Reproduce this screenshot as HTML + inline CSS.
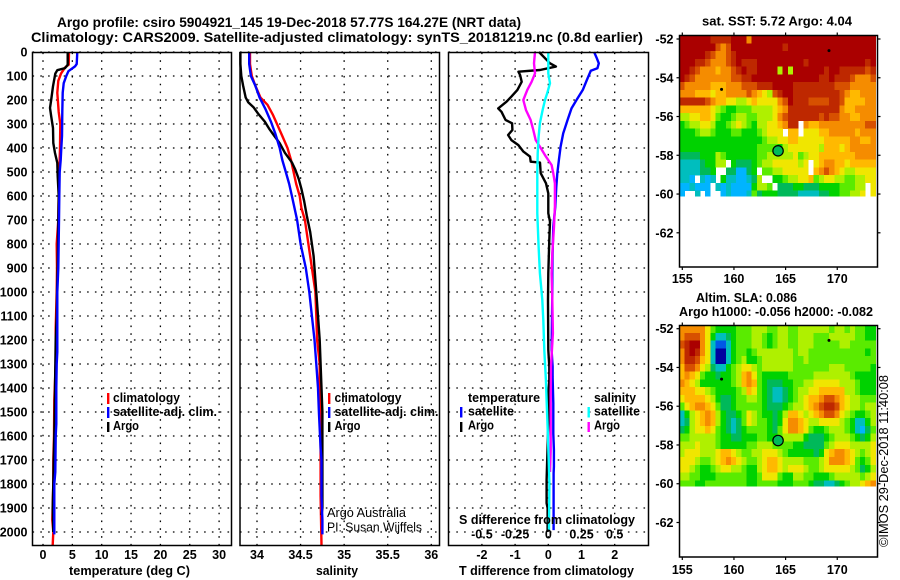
<!DOCTYPE html>
<html lang="en">
<head>
<meta charset="utf-8">
<title>Argo profile csiro 5904921_145</title>
<style>
html,body{margin:0;padding:0;background:#fff;}
svg{display:block;}
text{font-family:"Liberation Sans",sans-serif;fill:#000;font-weight:bold;font-size:12.5px;}
.reg{font-weight:normal;}
.ttl{font-size:14px;}
</style>
</head>
<body>
<svg id="chart" xmlns="http://www.w3.org/2000/svg" width="900" height="580" viewBox="0 0 900 580">
  <rect x="0" y="0" width="900" height="580" fill="#fff"/>
  <g id="maps"></g>
  <g id="grids"></g>
  <g id="series"></g>
  <g id="frames"></g>
  <g id="labels"></g>

  <text class="ttl" x="57" y="27" textLength="464" lengthAdjust="spacingAndGlyphs">Argo profile: csiro 5904921_145 19-Dec-2018 57.77S 164.27E (NRT data)</text>
  <text class="ttl" x="31" y="42" textLength="612" lengthAdjust="spacingAndGlyphs">Climatology: CARS2009. Satellite-adjusted climatology: synTS_20181219.nc (0.8d earlier)</text>

  <text x="69" y="575" textLength="121" lengthAdjust="spacingAndGlyphs">temperature (deg C)</text>
  <text x="316" y="575" textLength="42" lengthAdjust="spacingAndGlyphs">salinity</text>
  <text x="459" y="575" textLength="175" lengthAdjust="spacingAndGlyphs">T difference from climatology</text>
  <text x="459" y="524" textLength="176" lengthAdjust="spacingAndGlyphs">S difference from climatology</text>

  <g>
    <rect x="107" y="393" width="2.4" height="11" fill="#f00"/>
    <rect x="107" y="407" width="2.4" height="11" fill="#00f"/>
    <rect x="107" y="422" width="2.4" height="10" fill="#000"/>
    <text x="113" y="402" textLength="67" lengthAdjust="spacingAndGlyphs">climatology</text>
    <text x="113" y="416" textLength="104" lengthAdjust="spacingAndGlyphs">satellite-adj. clim.</text>
    <text x="113" y="430" textLength="26" lengthAdjust="spacingAndGlyphs">Argo</text>
  </g>
  <g>
    <rect x="328" y="393" width="2.4" height="11" fill="#f00"/>
    <rect x="328" y="407" width="2.4" height="11" fill="#00f"/>
    <rect x="328" y="422" width="2.4" height="10" fill="#000"/>
    <text x="334.5" y="402" textLength="67" lengthAdjust="spacingAndGlyphs">climatology</text>
    <text x="334.5" y="416" textLength="104" lengthAdjust="spacingAndGlyphs">satellite-adj. clim.</text>
    <text x="334.5" y="430" textLength="26" lengthAdjust="spacingAndGlyphs">Argo</text>
    <text class="reg" x="327" y="517" textLength="79" lengthAdjust="spacingAndGlyphs">Argo Australia</text>
    <text class="reg" x="327" y="531.5" textLength="95" lengthAdjust="spacingAndGlyphs">PI: Susan Wijffels</text>
  </g>
  <g>
    <text x="468" y="402" textLength="72" lengthAdjust="spacingAndGlyphs">temperature</text>
    <rect x="460" y="407" width="2.4" height="10.5" fill="#00f"/>
    <text x="468" y="415.5" textLength="46" lengthAdjust="spacingAndGlyphs">satellite</text>
    <rect x="460" y="422" width="2.4" height="10" fill="#000"/>
    <text x="468" y="429.5" textLength="26" lengthAdjust="spacingAndGlyphs">Argo</text>
    <text x="594" y="402" textLength="42" lengthAdjust="spacingAndGlyphs">salinity</text>
    <rect x="587.5" y="407" width="2.4" height="10.5" fill="#0ff"/>
    <text x="594" y="415.5" textLength="46" lengthAdjust="spacingAndGlyphs">satellite</text>
    <rect x="587.5" y="422" width="2.4" height="10" fill="#f0f"/>
    <text x="594" y="429.5" textLength="26" lengthAdjust="spacingAndGlyphs">Argo</text>
  </g>

  <text x="702" y="25.5" textLength="150" lengthAdjust="spacingAndGlyphs">sat. SST: 5.72 Argo: 4.04</text>
  <text x="696" y="302" textLength="101" lengthAdjust="spacingAndGlyphs">Altim. SLA: 0.086</text>
  <text x="679" y="316" textLength="194" lengthAdjust="spacingAndGlyphs">Argo h1000: -0.056 h2000: -0.082</text>
  <text class="reg" transform="translate(888,547) rotate(-90)" x="0" y="0" textLength="172" lengthAdjust="spacingAndGlyphs">©IMOS 29-Dec-2018 11:40:08</text>
</svg>

<script>
const depthTicks = [0,100,200,300,400,500,600,700,800,900,1000,1100,1200,1300,1400,1500,1600,1700,1800,1900,2000];
const tempTicks = [0,5,10,15,20,25,30];
const salTicks = [34,34.5,35,35.5,36];
const salTickLabels = ["34","34.5","35","35.5","36"];
const tDiffTicks = [-2,-1,0,1,2];
const sDiffTicks = [-0.5,-0.25,0,0.25,0.5];
const sDiffTickLabels = ["-0.5","-0.25","0","0.25","0.5"];
const lonTicks = [155,160,165,170];
const latTicks = [-52,-54,-56,-58,-60,-62];

const tempArgoDepth = [0,53,67,76,90,143,199,233,268,317,379,421,462,518,600,700,893,1000,1100,1200,1400,1500,1600,1700,1800,1900,2000];
const tempArgo = [4.2,4.2,3.75,2.44,2.1,1.7,1.4,1.2,1.4,1.7,1.76,2.04,2.44,2.5,2.67,2.61,2.5,2.39,2.33,2.16,2.04,2.0,1.93,1.82,1.76,1.65,1.76];
const tempClimDepth = [0,53,65,90,120,170,250,300,400,500,600,700,800,900,1000,1150,1300,1450,1600,1700,1800,1950,2000,2054];
const tempClim = [4.43,4.37,3.75,3.07,2.61,2.44,2.67,2.95,2.89,2.78,2.67,2.61,2.33,2.39,2.33,2.16,2.16,1.93,1.87,1.76,1.76,1.59,1.76,1.65];
const tempSatDepth = [0,50,60,80,100,130,170,250,350,400,450,500,600,700,900,1000,1100,1250,1300,1400,1550,1600,1750,1800,1900,2010];
const tempSat = [5.85,5.74,5.45,4.32,3.97,3.52,3.35,3.29,3.24,3.12,3.01,2.84,2.78,2.72,2.61,2.44,2.44,2.44,2.33,2.27,2.27,2.16,2.1,1.93,1.93,1.93];

const salArgoDepth = [0,50,100,140,190,210,230,260,290,320,350,380,420,460,490,530,570,620,680,750,850,950,1000,1100,1200,1300,1400,1500,1600,1700,1800,1900,1930];
const salArgo = [33.81,33.81,33.82,33.84,33.87,33.90,33.96,34.02,34.09,34.14,34.20,34.26,34.32,34.40,34.44,34.48,34.51,34.54,34.57,34.61,34.65,34.67,34.68,34.70,34.72,34.73,34.74,34.75,34.75,34.75,34.75,34.75,34.74];
const salClimDepth = [0,50,100,140,190,220,260,300,350,400,450,500,550,600,650,700,800,900,1000,1100,1200,1300,1400,1500,1700,1850,2054];
const salClim = [33.92,33.92,33.94,33.98,34.04,34.12,34.18,34.23,34.29,34.35,34.39,34.42,34.45,34.49,34.51,34.55,34.59,34.63,34.67,34.68,34.69,34.72,34.72,34.73,34.73,34.73,34.74];
const salSatDepth = [0,50,100,140,190,240,290,340,400,450,500,550,600,650,700,800,850,900,1000,1100,1200,1300,1400,1500,1650,1700,1850,1950,2010];
const salSat = [33.91,33.91,33.93,33.98,34.03,34.10,34.16,34.21,34.26,34.29,34.33,34.37,34.40,34.43,34.46,34.50,34.53,34.56,34.60,34.63,34.66,34.68,34.70,34.71,34.73,34.74,34.74,34.75,34.75];

const tDiffArgoDepth = [0,26,47,61,75,82,96,124,158,186,207,235,249,283,297,325,346,367,388,415,436,457,461,505,547,589,672,707,783,922,1033,1242,1311,1367,1422,1547,1783,1880,1900,2000];
const tDiffArgo = [-0.28,-0.10,0.05,0.23,-0.25,-0.90,-0.85,-0.80,-0.93,-1.11,-1.26,-1.51,-1.41,-1.29,-1.09,-1.08,-1.21,-1.11,-0.90,-0.75,-0.55,-0.53,-0.25,-0.23,-0.07,0,0,0.05,0.03,0,-0.01,0,0.03,0.03,0,0,-0.05,-0.05,-0.02,-0.02];
const tDiffSatDepth = [0,26,47,68,78,117,158,200,235,283,339,394,450,506,561,644,728,839,922,1006,1242,1311,1353,1464,1589,1658,1728,1756,1992];
const tDiffSat = [1.38,1.46,1.52,1.48,1.28,1.16,1.04,0.85,0.70,0.58,0.45,0.37,0.32,0.27,0.24,0.21,0.15,0.13,0.12,0.12,0.10,0.13,0.13,0.15,0.15,0.17,0.17,0.16,0.16];
const sDiffArgoDepth = [0,47,89,124,158,200,242,283,325,367,394,436,471,506,547,644,728,839,922,1033,1172,1311,1450,1589,1658,1750];
const sDiffArgo = [-0.10,-0.108,-0.10,-0.126,-0.158,-0.188,-0.168,-0.133,-0.113,-0.095,-0.063,-0.018,0.025,0.038,0.05,0.05,0.043,0.03,0.025,0.03,0.035,0.02,0.018,0.018,0.018,0.013];
const sDiffSatDepth = [0,89,130,172,200,242,297,353,422,506,672,811,922,1033,1117,1242,1367,1450,1561,1700,1797,1992];
const sDiffSat = [0,0,0.013,-0.008,-0.025,-0.043,-0.063,-0.073,-0.08,-0.083,-0.083,-0.073,-0.063,-0.045,-0.038,-0.03,-0.018,-0.013,-0.005,0.003,0.008,0.005];

const _ = null;
const sstGrid = [
[13,13,13,13,13,13,12,12,12,12,13,13,13,10,13,13,13,13,13,13,13,13,13,13,13,13,13,13,13,13,13,13,13,13,13,13,13,13],
[13,13,13,13,13,13,13,11,10,11,13,13,13,13,13,13,13,13,13,13,12,13,13,13,13,13,13,13,13,13,13,13,13,13,13,13,13,13],
[13,13,13,13,13,12,11,10,10,11,12,13,13,13,13,13,13,13,13,13,13,13,13,13,13,13,13,13,13,13,13,13,13,13,13,13,13,13],
[13,13,13,12,12,11,10,10,10,11,12,13,12,12,12,13,13,13,13,13,13,13,13,13,12,13,13,13,13,13,13,13,13,13,13,13,12,13],
[13,13,12,11,10,10,10,9,10,10,11,12,13,12,12,13,13,13,13,7,13,7,13,13,13,13,13,13,12,13,13,12,12,12,12,12,11,12],
[13,12,11,10,10,10,10,10,10,10,11,11,12,12,13,13,13,13,13,13,13,13,13,13,13,13,13,12,12,13,12,12,12,11,10,10,10,11],
[11,10,10,10,10,10,9,9,9,10,10,10,11,11,11,12,12,12,13,13,13,13,12,12,12,12,12,12,12,12,11,11,11,10,10,10,10,10],
[10,10,10,9,9,9,8,9,9,10,10,10,10,11,10,9,8,7,11,12,13,13,12,12,12,12,12,12,12,12,12,11,10,9,9,10,10,10],
[12,12,12,12,12,11,10,9,9,8,8,7,7,8,9,8,8,8,8,10,11,13,12,12,12,11,11,11,11,12,12,11,9,9,9,9,10,10],
[9,9,9,9,9,9,8,7,6,5,5,6,6,6,7,7,7,7,8,9,10,12,12,12,12,12,12,12,12,12,12,10,9,9,10,10,10,10],
[7,7,8,8,9,9,8,6,5,5,6,7,7,6,6,7,7,7,8,10,11,12,12,12,12,12,12,11,12,11,11,10,10,9,9,10,10,10],
[5,6,7,7,8,8,7,5,5,6,7,8,7,6,5,7,7,8,8,9,10,12,12,_,10,9,9,10,10,10,10,10,10,10,10,10,11,11],
[5,5,5,6,7,7,6,5,5,5,6,6,5,5,5,6,7,8,8,8,_,9,9,_,8,8,8,9,9,10,10,10,10,10,9,10,10,10],
[5,5,5,5,5,5,5,5,5,5,5,5,5,5,5,5,6,7,7,8,8,9,9,8,8,8,8,8,9,9,9,9,9,10,10,9,9,10],
[5,5,5,5,5,5,5,5,5,5,5,5,5,5,5,6,6,6,6,5,7,8,8,8,8,8,8,7,9,9,9,8,9,10,10,10,10,10],
[4,4,4,4,5,5,5,7,6,5,5,5,5,5,5,6,6,7,7,7,7,7,8,6,7,8,8,9,9,9,9,9,9,9,10,10,10,10],
[3,3,3,3,4,5,5,7,7,_,5,4,4,4,5,6,7,7,8,8,8,8,8,7,8,_,8,9,10,10,9,9,8,9,9,9,9,9],
[3,3,3,3,4,4,5,_,_,4,4,2,2,4,5,_,6,6,7,7,8,8,8,8,8,_,9,10,11,10,9,8,7,7,8,8,8,8],
[3,3,2,_,3,2,3,_,5,3,3,2,2,3,4,7,_,_,5,5,6,7,7,8,8,9,6,7,8,8,7,7,6,6,7,7,8,8],
[2,2,3,2,2,2,_,3,2,3,2,2,2,2,5,7,7,6,_,4,4,4,5,5,4,4,4,5,5,5,5,6,6,6,7,7,_,8],
[2,_,_,3,_,2,_,_,2,3,2,2,2,3,6,4,5,5,5,4,4,4,4,3,3,3,3,4,4,5,5,6,6,7,7,8,_,8]
];
const slaGrid = [
[10,10,10,10,10,8,6,5,5,5,5,6,6,6,7,7,7,6,6,7,7,6,6,7,7,7,7,7,7,6,7,7,6,7,6,6,5,5],
[10,11,11,11,10,8,5,3,3,4,5,6,6,6,7,7,6,5,6,7,7,6,6,7,7,7,6,6,6,7,7,7,7,7,6,6,5,5],
[11,12,13,13,10,8,3,1,1,3,5,6,6,6,7,7,6,5,6,7,7,6,6,7,7,7,6,6,6,6,6,7,7,6,6,6,6,6],
[10,12,13,12,10,8,3,0,0,3,5,6,6,5,6,7,7,7,7,7,7,7,6,7,7,6,6,6,6,6,6,6,6,6,6,6,5,6],
[10,12,12,11,9,8,3,0,0,3,5,6,7,5,5,6,7,7,7,7,7,7,6,6,7,6,6,6,6,6,6,6,6,6,6,6,6,6],
[9,11,11,10,8,7,4,3,3,5,6,7,8,8,7,6,7,7,7,7,7,7,6,6,6,6,6,6,6,7,7,7,6,6,6,6,6,5],
[9,10,9,8,6,5,5,4,5,5,6,7,9,10,8,6,5,5,5,5,5,6,6,6,6,6,7,7,7,7,7,7,7,6,5,5,5,5],
[10,9,8,7,5,5,5,5,5,5,6,7,9,10,9,6,5,4,4,4,5,5,6,6,7,7,8,8,8,8,8,7,7,7,6,5,5,5],
[9,9,9,8,8,7,6,5,5,5,5,6,7,9,8,6,5,4,3,3,4,5,6,7,7,8,8,9,9,9,9,9,7,7,6,5,5,5],
[8,9,9,9,9,8,7,5,4,4,5,6,6,7,7,6,5,4,3,3,4,5,6,7,8,9,9,10,11,11,10,9,8,7,7,6,6,6],
[6,8,9,10,10,9,8,6,4,4,5,6,6,6,6,6,5,4,4,4,5,6,7,7,8,9,10,11,12,12,11,9,8,7,7,6,7,7],
[3,5,7,8,9,10,9,7,5,4,4,5,6,8,7,6,5,5,4,5,7,9,9,8,7,8,9,10,11,11,10,8,7,6,5,5,6,7],
[3,4,7,8,9,10,9,7,5,4,3,4,6,8,7,6,6,5,4,5,8,10,10,9,8,7,7,8,8,8,8,7,6,5,3,3,5,7],
[4,5,7,8,8,9,8,6,5,4,3,4,5,6,6,6,6,5,4,6,8,10,10,9,8,6,5,5,6,7,7,7,6,5,3,2,4,6],
[6,6,7,7,7,7,7,6,5,5,4,4,5,5,5,6,6,5,5,6,7,7,7,7,5,4,4,4,5,6,7,7,7,6,5,4,5,7],
[7,7,7,8,7,7,7,6,5,5,5,5,5,6,6,7,7,7,6,6,6,6,5,5,4,4,4,4,6,7,8,8,8,7,7,7,7,8],
[7,8,8,8,7,7,7,8,9,9,8,7,6,6,7,7,8,8,8,7,6,5,5,5,5,5,4,5,8,9,10,10,9,8,7,6,7,8],
[8,8,8,7,6,6,7,8,9,10,9,8,7,6,6,7,8,9,9,8,7,7,7,7,6,6,6,7,8,10,10,10,9,8,6,5,6,8],
[8,8,7,6,5,5,6,7,8,8,7,7,6,5,5,7,8,9,9,8,7,8,8,8,7,6,6,7,8,8,8,8,8,7,6,4,5,7],
[7,7,6,6,5,5,5,6,6,6,6,6,6,5,5,6,8,8,8,6,5,5,7,7,6,6,5,5,5,6,7,7,7,7,7,6,7,8],
[6,6,6,5,5,6,6,6,6,6,6,6,6,5,5,6,6,6,6,5,5,5,6,6,6,5,4,4,3,3,4,5,6,7,7,8,9,10]
];
const palette = ["rgb(0,0,160)","rgb(0,90,230)","rgb(0,180,255)","rgb(0,190,190)","rgb(0,185,90)","rgb(0,210,0)","rgb(90,235,0)","rgb(175,240,0)","rgb(240,230,0)","rgb(255,185,0)","rgb(245,140,0)","rgb(215,80,0)","rgb(190,40,0)","rgb(170,0,0)"];
const floatLon = 164.27;
const floatLat = -57.77;
const floatLevel = 4;
const otherFloatLon = [158.8,169.2];
const otherFloatLat = [-54.6,-52.6];

const SVGNS = "http://www.w3.org/2000/svg";
const yDepth = d => 52 + 0.24 * d;
const xTemp = t => 43 + 5.87 * t;
const xSal = s => 257 + 87.15 * (s - 34);
const xTDiff = t => 548.3 + 33.2 * t;
const xSDiff = s => 548.3 + 132.8 * s;
const xLon = lon => 682.3 + 10.33 * (lon - 155);
const yLat1 = lat => 39 + 19.38 * (-52 - lat);
const yLat2 = lat => 328.7 + 19.38 * (-52 - lat);

const panels = [
  {x0:32.5, x1:231.5, ticks:tempTicks, fx:xTemp, labels:tempTicks.map(String), name:'temperature'},
  {x0:240, x1:439.5, ticks:salTicks, fx:xSal, labels:salTickLabels, name:'salinity'},
  {x0:448.5, x1:648.5, ticks:tDiffTicks, fx:xTDiff, labels:tDiffTicks.map(String), name:'difference'}
];
const yTop = 52.5, yBot = 545.5;
const gGrid = document.getElementById('grids');
const gSeries = document.getElementById('series');
const gFrames = document.getElementById('frames');
const gLabels = document.getElementById('labels');
const gMaps = document.getElementById('maps');

function mk(tag, attrs, parent){
  const el = document.createElementNS(SVGNS, tag);
  for (const k in attrs) el.setAttribute(k, attrs[k]);
  parent.appendChild(el);
  return el;
}

panels.forEach(p => {
  depthTicks.forEach(d => {
    const l = mk('line',{x1:p.x0,x2:p.x1,y1:yDepth(d),y2:yDepth(d),stroke:'#000','stroke-width':1.3,'stroke-dasharray':'1.6 6.2'},gGrid);
    
    
  });
  p.ticks.forEach(v => {
    const l = mk('line',{x1:p.fx(v),x2:p.fx(v),y1:yTop,y2:yBot,stroke:'#000','stroke-width':1.3,'stroke-dasharray':'1.6 6.2'},gGrid);
    
    
  });
  const r = mk('rect',{x:p.x0,y:yTop,width:p.x1-p.x0,height:yBot-yTop,fill:'none',stroke:'#000','stroke-width':1.5},gFrames);
  
  
  p.ticks.forEach((v,i) => {
    const t = mk('text',{x:p.fx(v),y:559,'text-anchor':'middle'},gLabels);
    t.textContent = p.labels[i];
    
    
  });
});

depthTicks.forEach(d => {
  const t = mk('text',{x:27.5,y:yDepth(d)+4.5,'text-anchor':'end'},gLabels);
  t.textContent = String(d);
  
  
});

sDiffTicks.forEach((v,i) => {
  const t = mk('text',{x:xSDiff(v),y:538.5,'text-anchor':'middle'},gLabels);
  t.textContent = sDiffTickLabels[i];
  
  
});

function series(values, depths, fx, color, name){
  const pts = values.map((v,i) => fx(v).toFixed(1) + ',' + yDepth(depths[i]).toFixed(1)).join(' ');
  const pl = mk('polyline',{points:pts,fill:'none',stroke:color,'stroke-width':2.4,'stroke-linejoin':'round'},gSeries);
  
  
}

series(tempClim, tempClimDepth, xTemp, '#f00', 'temperature-climatology-line');
series(tempArgo, tempArgoDepth, xTemp, '#000', 'temperature-argo-line');
series(tempSat, tempSatDepth, xTemp, '#00f', 'temperature-satellite-line');
series(salClim, salClimDepth, xSal, '#f00', 'salinity-climatology-line');
series(salArgo, salArgoDepth, xSal, '#000', 'salinity-argo-line');
series(salSat, salSatDepth, xSal, '#00f', 'salinity-satellite-line');
series(tDiffSat, tDiffSatDepth, xTDiff, '#00f', 't-difference-satellite-line');
series(tDiffArgo, tDiffArgoDepth, xTDiff, '#000', 't-difference-argo-line');
series(sDiffArgo, sDiffArgoDepth, xSDiff, '#f0f', 's-difference-argo-line');
series(sDiffSat, sDiffSatDepth, xSDiff, '#0ff', 's-difference-satellite-line');

function drawMap(grid, yLat, frameTop, frameBot, labelY, name){
  const lonStart = 154.71, lonStep = 0.5, latStart = -51.82, latStep = 0.4, latEnd = -60.12;
  grid.forEach((row,j) => {
    row.forEach((lev,i) => {
      if (lev === null) return;
      const x0 = xLon(lonStart + i*lonStep), x1 = Math.min(xLon(lonStart + (i+1)*lonStep), 877.5);
      const y0 = yLat(latStart - j*latStep), y1 = yLat(Math.max(latStart - (j+1)*latStep, latEnd));
      const c = mk('rect',{x:x0.toFixed(2),y:y0.toFixed(2),width:(x1-x0+0.3).toFixed(2),height:(y1-y0+0.3).toFixed(2),fill:palette[lev],'shape-rendering':'crispEdges'},gMaps);
      
      
    });
  });
  const f = mk('rect',{x:679.5,y:frameTop,width:198,height:frameBot-frameTop,fill:'none',stroke:'#000','stroke-width':1.5},gFrames);
  
  
  lonTicks.forEach(lon => {
    const x = xLon(lon);
    const tt = mk('line',{x1:x,x2:x,y1:frameTop-3,y2:frameTop,stroke:'#000','stroke-width':1.2},gFrames);
    
    
    const tb = mk('line',{x1:x,x2:x,y1:frameBot,y2:frameBot+3,stroke:'#000','stroke-width':1.2},gFrames);
    
    
    const t = mk('text',{x:x,y:labelY,'text-anchor':'middle'},gLabels);
    t.textContent = String(lon);
    
    
  });
  latTicks.forEach(lat => {
    const y = yLat(lat);
    const tl = mk('line',{x1:676.5,x2:679.5,y1:y,y2:y,stroke:'#000','stroke-width':1.2},gFrames);
    
    
    const tr = mk('line',{x1:877.5,x2:880.5,y1:y,y2:y,stroke:'#000','stroke-width':1.2},gFrames);
    
    
    const t = mk('text',{x:673.5,y:y+4.5,'text-anchor':'end'},gLabels);
    t.textContent = String(lat);
    
    
  });
  otherFloatLon.forEach((lon,i) => {
    const m = mk('circle',{cx:xLon(lon),cy:yLat(otherFloatLat[i]),r:1.5,fill:'#000'},gFrames);
    
    
  });
  const pos = mk('circle',{cx:xLon(floatLon),cy:yLat(floatLat),r:5.2,fill:palette[floatLevel],stroke:'#000','stroke-width':1.2},gFrames);
  
  
}

drawMap(sstGrid, yLat1, 35.5, 267, 283, 'sst');
drawMap(slaGrid, yLat2, 325.5, 557, 574, 'sla');
</script>
</body>
</html>
